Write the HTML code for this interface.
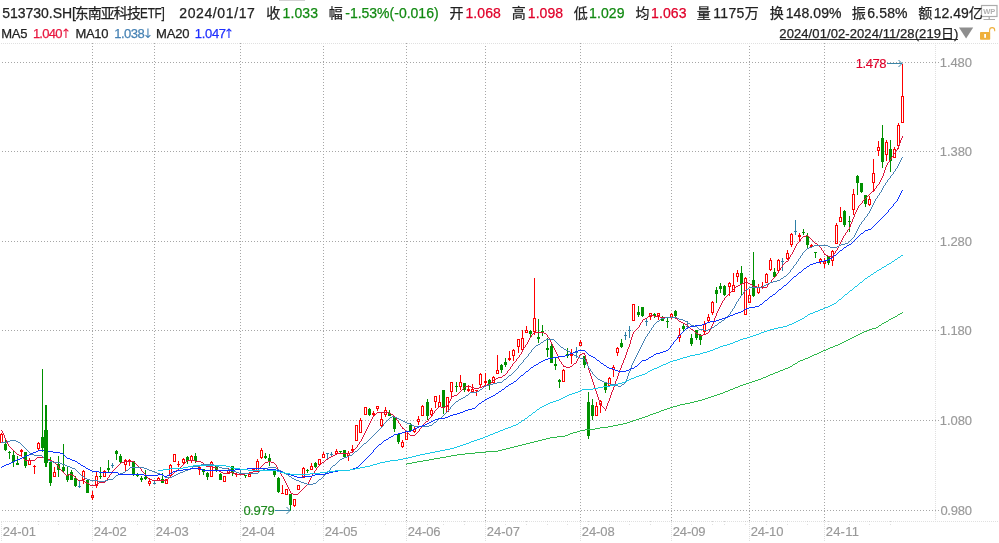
<!DOCTYPE html><html lang="zh-CN"><head><meta charset="utf-8"><title>513730.SH 东南亚科技ETF</title><style>
html,body{margin:0;padding:0;background:#fff}
body{width:999px;height:543px;position:relative;overflow:hidden;font-family:"Liberation Sans","Noto Sans CJK SC",sans-serif}
.t{position:absolute;white-space:nowrap;line-height:1}
.h{font-size:14px}
.c{font-size:14px}
.h2{font-size:13px}.ar{font-family:"DejaVu Sans",sans-serif;font-size:13px}.c2{font-size:13px}
.h,.c,.h2,.c2{-webkit-text-stroke:0.25px currentColor}.ar{-webkit-text-stroke:0}
.k{color:#222}.g{color:#128a12}.r{color:#e0002a}
.m5{color:#e8173f}.m10{color:#4682b4}.m20{color:#1f2fff}

.a{font-size:13px;line-height:14px;color:#999;-webkit-text-stroke:0.15px currentColor}
</style></head><body><svg width="999" height="543" viewBox="0 0 999 543" style="position:absolute;left:0;top:0"><g shape-rendering="crispEdges" fill="none"><path d="M2 62.5H939" stroke="#a6a6a6" stroke-dasharray="1 2"/><path d="M2 151.5H939" stroke="#a6a6a6" stroke-dasharray="1 2"/><path d="M2 241.5H939" stroke="#a6a6a6" stroke-dasharray="1 2"/><path d="M2 330.5H939" stroke="#a6a6a6" stroke-dasharray="1 2"/><path d="M2 420.5H939" stroke="#a6a6a6" stroke-dasharray="1 2"/><path d="M2 510.5H939" stroke="#a6a6a6" stroke-dasharray="1 2"/><path d="M92.5 43V521" stroke="#a6a6a6" stroke-dasharray="1 2"/><path d="M92.5 522V541" stroke="#e0e0e0" stroke-dasharray="1 1"/><path d="M154.5 43V521" stroke="#a6a6a6" stroke-dasharray="1 2"/><path d="M154.5 522V541" stroke="#e0e0e0" stroke-dasharray="1 1"/><path d="M240.5 43V521" stroke="#a6a6a6" stroke-dasharray="1 2"/><path d="M240.5 522V541" stroke="#e0e0e0" stroke-dasharray="1 1"/><path d="M323.5 43V521" stroke="#a6a6a6" stroke-dasharray="1 2"/><path d="M323.5 522V541" stroke="#e0e0e0" stroke-dasharray="1 1"/><path d="M406.5 43V521" stroke="#a6a6a6" stroke-dasharray="1 2"/><path d="M406.5 522V541" stroke="#e0e0e0" stroke-dasharray="1 1"/><path d="M485.5 43V521" stroke="#a6a6a6" stroke-dasharray="1 2"/><path d="M485.5 522V541" stroke="#e0e0e0" stroke-dasharray="1 1"/><path d="M580.5 43V521" stroke="#a6a6a6" stroke-dasharray="1 2"/><path d="M580.5 522V541" stroke="#e0e0e0" stroke-dasharray="1 1"/><path d="M671.5 43V521" stroke="#a6a6a6" stroke-dasharray="1 2"/><path d="M671.5 522V541" stroke="#e0e0e0" stroke-dasharray="1 1"/><path d="M749.5 43V521" stroke="#a6a6a6" stroke-dasharray="1 2"/><path d="M749.5 522V541" stroke="#e0e0e0" stroke-dasharray="1 1"/><path d="M824.5 43V521" stroke="#a6a6a6" stroke-dasharray="1 2"/><path d="M824.5 522V541" stroke="#e0e0e0" stroke-dasharray="1 1"/><path d="M1 43.5H999" stroke="#e0e0e0" stroke-dasharray="1 1"/><path d="M1 521.5H999" stroke="#e0e0e0" stroke-dasharray="1 1"/><path d="M935.5 43V521" stroke="#e0e0e0" stroke-dasharray="1 1"/><path d="M1.5 522V541" stroke="#e0e0e0" stroke-dasharray="1 1"/><path d="M17.5 524V525" stroke="#e0e0e0"/><path d="M17.5 521V522" stroke="#d0d0d0"/><path d="M38.5 524V525" stroke="#e0e0e0"/><path d="M38.5 521V522" stroke="#d0d0d0"/><path d="M58.5 524V525" stroke="#e0e0e0"/><path d="M58.5 521V522" stroke="#d0d0d0"/><path d="M79.5 524V525" stroke="#e0e0e0"/><path d="M79.5 521V522" stroke="#d0d0d0"/><path d="M100.5 524V525" stroke="#e0e0e0"/><path d="M100.5 521V522" stroke="#d0d0d0"/><path d="M116.5 524V525" stroke="#e0e0e0"/><path d="M116.5 521V522" stroke="#d0d0d0"/><path d="M137.5 524V525" stroke="#e0e0e0"/><path d="M137.5 521V522" stroke="#d0d0d0"/><path d="M158.5 524V525" stroke="#e0e0e0"/><path d="M158.5 521V522" stroke="#d0d0d0"/><path d="M178.5 524V525" stroke="#e0e0e0"/><path d="M178.5 521V522" stroke="#d0d0d0"/><path d="M199.5 524V525" stroke="#e0e0e0"/><path d="M199.5 521V522" stroke="#d0d0d0"/><path d="M220.5 524V525" stroke="#e0e0e0"/><path d="M220.5 521V522" stroke="#d0d0d0"/><path d="M253.5 524V525" stroke="#e0e0e0"/><path d="M253.5 521V522" stroke="#d0d0d0"/><path d="M274.5 524V525" stroke="#e0e0e0"/><path d="M274.5 521V522" stroke="#d0d0d0"/><path d="M294.5 524V525" stroke="#e0e0e0"/><path d="M294.5 521V522" stroke="#d0d0d0"/><path d="M315.5 524V525" stroke="#e0e0e0"/><path d="M315.5 521V522" stroke="#d0d0d0"/><path d="M344.5 524V525" stroke="#e0e0e0"/><path d="M344.5 521V522" stroke="#d0d0d0"/><path d="M365.5 524V525" stroke="#e0e0e0"/><path d="M365.5 521V522" stroke="#d0d0d0"/><path d="M385.5 524V525" stroke="#e0e0e0"/><path d="M385.5 521V522" stroke="#d0d0d0"/><path d="M427.5 524V525" stroke="#e0e0e0"/><path d="M427.5 521V522" stroke="#d0d0d0"/><path d="M443.5 524V525" stroke="#e0e0e0"/><path d="M443.5 521V522" stroke="#d0d0d0"/><path d="M464.5 524V525" stroke="#e0e0e0"/><path d="M464.5 521V522" stroke="#d0d0d0"/><path d="M505.5 524V525" stroke="#e0e0e0"/><path d="M505.5 521V522" stroke="#d0d0d0"/><path d="M526.5 524V525" stroke="#e0e0e0"/><path d="M526.5 521V522" stroke="#d0d0d0"/><path d="M547.5 524V525" stroke="#e0e0e0"/><path d="M547.5 521V522" stroke="#d0d0d0"/><path d="M567.5 524V525" stroke="#e0e0e0"/><path d="M567.5 521V522" stroke="#d0d0d0"/><path d="M588.5 524V525" stroke="#e0e0e0"/><path d="M588.5 521V522" stroke="#d0d0d0"/><path d="M609.5 524V525" stroke="#e0e0e0"/><path d="M609.5 521V522" stroke="#d0d0d0"/><path d="M629.5 524V525" stroke="#e0e0e0"/><path d="M629.5 521V522" stroke="#d0d0d0"/><path d="M650.5 524V525" stroke="#e0e0e0"/><path d="M650.5 521V522" stroke="#d0d0d0"/><path d="M691.5 524V525" stroke="#e0e0e0"/><path d="M691.5 521V522" stroke="#d0d0d0"/><path d="M712.5 524V525" stroke="#e0e0e0"/><path d="M712.5 521V522" stroke="#d0d0d0"/><path d="M724.5 524V525" stroke="#e0e0e0"/><path d="M724.5 521V522" stroke="#d0d0d0"/><path d="M745.5 524V525" stroke="#e0e0e0"/><path d="M745.5 521V522" stroke="#d0d0d0"/><path d="M766.5 524V525" stroke="#e0e0e0"/><path d="M766.5 521V522" stroke="#d0d0d0"/><path d="M787.5 524V525" stroke="#e0e0e0"/><path d="M787.5 521V522" stroke="#d0d0d0"/><path d="M807.5 524V525" stroke="#e0e0e0"/><path d="M807.5 521V522" stroke="#d0d0d0"/><path d="M828.5 524V525" stroke="#e0e0e0"/><path d="M828.5 521V522" stroke="#d0d0d0"/><path d="M849.5 524V525" stroke="#e0e0e0"/><path d="M849.5 521V522" stroke="#d0d0d0"/><path d="M869.5 524V525" stroke="#e0e0e0"/><path d="M869.5 521V522" stroke="#d0d0d0"/><path d="M890.5 524V525" stroke="#e0e0e0"/><path d="M890.5 521V522" stroke="#d0d0d0"/></g><g shape-rendering="crispEdges"><rect x="1" y="433" width="1" height="1" fill="#ff0000"/><path d="M0 434h3v9h-3zM1 435v7h1v-7z" fill="#ff0000" fill-rule="evenodd"/><rect x="5" y="440" width="1" height="11" fill="#009100"/><rect x="4" y="444" width="3" height="6" fill="#009100"/><rect x="9" y="451" width="1" height="8" fill="#009100"/><rect x="8" y="452" width="3" height="1" fill="#009100"/><rect x="13" y="450" width="1" height="17" fill="#009100"/><rect x="12" y="455" width="3" height="7" fill="#009100"/><rect x="17" y="456" width="1" height="9" fill="#009100"/><rect x="16" y="463" width="3" height="2" fill="#009100"/><rect x="21" y="449" width="1" height="1" fill="#ff0000"/><rect x="21" y="452" width="1" height="5" fill="#ff0000"/><rect x="20" y="450" width="3" height="2" fill="#ff0000"/><rect x="25" y="452" width="1" height="16" fill="#009100"/><rect x="24" y="452" width="3" height="14" fill="#009100"/><rect x="29" y="458" width="1" height="2" fill="#ff0000"/><path d="M28 460h3v5h-3zM29 461v3h1v-3z" fill="#ff0000" fill-rule="evenodd"/><rect x="34" y="465" width="1" height="1" fill="#ff0000"/><rect x="34" y="467" width="1" height="7" fill="#ff0000"/><rect x="33" y="466" width="3" height="1" fill="#ff0000"/><rect x="38" y="442" width="1" height="1" fill="#ff0000"/><rect x="38" y="449" width="1" height="2" fill="#ff0000"/><path d="M37 443h3v6h-3zM38 444v4h1v-4z" fill="#ff0000" fill-rule="evenodd"/><rect x="42" y="369" width="1" height="83" fill="#009100"/><rect x="41" y="437" width="3" height="11" fill="#009100"/><rect x="50" y="457" width="1" height="29" fill="#009100"/><rect x="49" y="462" width="3" height="21" fill="#009100"/><rect x="54" y="467" width="1" height="5" fill="#ff0000"/><path d="M53 472h3v5h-3zM54 473v3h1v-3z" fill="#ff0000" fill-rule="evenodd"/><rect x="58" y="456" width="1" height="21" fill="#009100"/><rect x="57" y="464" width="3" height="6" fill="#009100"/><rect x="63" y="444" width="1" height="28" fill="#009100"/><rect x="62" y="467" width="3" height="4" fill="#009100"/><rect x="67" y="466" width="1" height="16" fill="#009100"/><rect x="66" y="475" width="3" height="5" fill="#009100"/><rect x="71" y="470" width="1" height="10" fill="#009100"/><rect x="70" y="472" width="3" height="8" fill="#009100"/><rect x="75" y="476" width="1" height="11" fill="#009100"/><rect x="74" y="478" width="3" height="8" fill="#009100"/><rect x="79" y="481" width="1" height="7" fill="#2e7fa6"/><rect x="78" y="486" width="3" height="1" fill="#2e7fa6"/><rect x="83" y="470" width="1" height="1" fill="#ff0000"/><rect x="83" y="480" width="1" height="4" fill="#ff0000"/><path d="M82 471h3v9h-3zM83 472v7h1v-7z" fill="#ff0000" fill-rule="evenodd"/><rect x="87" y="480" width="1" height="13" fill="#009100"/><rect x="86" y="480" width="3" height="13" fill="#009100"/><rect x="92" y="491" width="1" height="4" fill="#ff0000"/><rect x="92" y="498" width="1" height="2" fill="#ff0000"/><path d="M91 495h3v3h-3zM92 496v1h1v-1z" fill="#ff0000" fill-rule="evenodd"/><rect x="96" y="472" width="1" height="4" fill="#ff0000"/><rect x="96" y="486" width="1" height="2" fill="#ff0000"/><path d="M95 476h3v10h-3zM96 477v8h1v-8z" fill="#ff0000" fill-rule="evenodd"/><rect x="100" y="467" width="1" height="12" fill="#009100"/><rect x="99" y="476" width="3" height="1" fill="#009100"/><rect x="104" y="470" width="1" height="1" fill="#ff0000"/><path d="M103 471h3v6h-3zM104 472v4h1v-4z" fill="#ff0000" fill-rule="evenodd"/><rect x="108" y="460" width="1" height="13" fill="#009100"/><rect x="107" y="468" width="3" height="2" fill="#009100"/><rect x="112" y="463" width="1" height="5" fill="#2e7fa6"/><rect x="111" y="465" width="3" height="1" fill="#2e7fa6"/><rect x="116" y="450" width="1" height="10" fill="#009100"/><rect x="115" y="451" width="3" height="3" fill="#009100"/><rect x="120" y="454" width="1" height="10" fill="#009100"/><rect x="119" y="456" width="3" height="6" fill="#009100"/><rect x="125" y="459" width="1" height="1" fill="#ff0000"/><rect x="125" y="465" width="1" height="6" fill="#ff0000"/><path d="M124 460h3v5h-3zM125 461v3h1v-3z" fill="#ff0000" fill-rule="evenodd"/><rect x="129" y="459" width="1" height="1" fill="#ff0000"/><rect x="129" y="462" width="1" height="4" fill="#ff0000"/><rect x="128" y="460" width="3" height="2" fill="#ff0000"/><rect x="133" y="461" width="1" height="15" fill="#009100"/><rect x="132" y="461" width="3" height="13" fill="#009100"/><rect x="137" y="473" width="1" height="4" fill="#009100"/><rect x="136" y="474" width="3" height="2" fill="#009100"/><rect x="141" y="476" width="1" height="6" fill="#009100"/><rect x="140" y="478" width="3" height="2" fill="#009100"/><rect x="145" y="470" width="1" height="10" fill="#009100"/><rect x="144" y="477" width="3" height="2" fill="#009100"/><rect x="149" y="478" width="1" height="3" fill="#ff0000"/><rect x="149" y="484" width="1" height="2" fill="#ff0000"/><path d="M148 481h3v3h-3zM149 482v1h1v-1z" fill="#ff0000" fill-rule="evenodd"/><rect x="154" y="480" width="1" height="4" fill="#2e7fa6"/><rect x="153" y="483" width="3" height="1" fill="#2e7fa6"/><rect x="158" y="477" width="1" height="1" fill="#ff0000"/><path d="M157 478h3v3h-3zM158 479v1h1v-1z" fill="#ff0000" fill-rule="evenodd"/><rect x="162" y="473" width="1" height="10" fill="#009100"/><rect x="161" y="479" width="3" height="4" fill="#009100"/><path d="M165 479h3v5h-3zM166 480v3h1v-3z" fill="#ff0000" fill-rule="evenodd"/><rect x="170" y="464" width="1" height="1" fill="#ff0000"/><rect x="170" y="476" width="1" height="2" fill="#ff0000"/><path d="M169 465h3v11h-3zM170 466v9h1v-9z" fill="#ff0000" fill-rule="evenodd"/><path d="M173 454h3v8h-3zM174 455v6h1v-6z" fill="#ff0000" fill-rule="evenodd"/><rect x="178" y="461" width="1" height="3" fill="#ff0000"/><rect x="178" y="465" width="1" height="2" fill="#ff0000"/><rect x="177" y="464" width="3" height="1" fill="#ff0000"/><rect x="183" y="458" width="1" height="1" fill="#ff0000"/><rect x="183" y="463" width="1" height="1" fill="#ff0000"/><path d="M182 459h3v4h-3zM183 460v2h1v-2z" fill="#ff0000" fill-rule="evenodd"/><rect x="187" y="456" width="1" height="8" fill="#009100"/><rect x="186" y="457" width="3" height="4" fill="#009100"/><rect x="191" y="455" width="1" height="1" fill="#ff0000"/><rect x="191" y="461" width="1" height="2" fill="#ff0000"/><path d="M190 456h3v5h-3zM191 457v3h1v-3z" fill="#ff0000" fill-rule="evenodd"/><rect x="195" y="453" width="1" height="10" fill="#009100"/><rect x="194" y="456" width="3" height="5" fill="#009100"/><rect x="199" y="466" width="1" height="1" fill="#ff0000"/><rect x="199" y="470" width="1" height="5" fill="#ff0000"/><path d="M198 467h3v3h-3zM199 468v1h1v-1z" fill="#ff0000" fill-rule="evenodd"/><rect x="203" y="469" width="1" height="6" fill="#009100"/><rect x="202" y="469" width="3" height="3" fill="#009100"/><rect x="207" y="472" width="1" height="8" fill="#009100"/><rect x="206" y="473" width="3" height="4" fill="#009100"/><rect x="211" y="461" width="1" height="1" fill="#ff0000"/><path d="M210 462h3v15h-3zM211 463v13h1v-13z" fill="#ff0000" fill-rule="evenodd"/><rect x="216" y="466" width="1" height="6" fill="#009100"/><rect x="215" y="466" width="3" height="4" fill="#009100"/><rect x="220" y="473" width="1" height="7" fill="#009100"/><rect x="219" y="474" width="3" height="6" fill="#009100"/><path d="M223 476h3v6h-3zM224 477v4h1v-4z" fill="#ff0000" fill-rule="evenodd"/><rect x="228" y="468" width="1" height="2" fill="#ff0000"/><path d="M227 470h3v4h-3zM228 471v2h1v-2z" fill="#ff0000" fill-rule="evenodd"/><rect x="232" y="466" width="1" height="10" fill="#009100"/><rect x="231" y="466" width="3" height="7" fill="#009100"/><rect x="236" y="473" width="1" height="1" fill="#ff0000"/><rect x="236" y="475" width="1" height="2" fill="#ff0000"/><rect x="235" y="474" width="3" height="1" fill="#ff0000"/><rect x="240" y="470" width="1" height="5" fill="#2e7fa6"/><rect x="239" y="473" width="3" height="1" fill="#2e7fa6"/><rect x="245" y="475" width="1" height="3" fill="#009100"/><rect x="244" y="475" width="3" height="1" fill="#009100"/><rect x="249" y="472" width="1" height="2" fill="#ff0000"/><path d="M248 474h3v3h-3zM249 475v1h1v-1z" fill="#ff0000" fill-rule="evenodd"/><rect x="252" y="469" width="3" height="1" fill="#ff0000"/><rect x="257" y="459" width="1" height="2" fill="#ff0000"/><path d="M256 461h3v11h-3zM257 462v9h1v-9z" fill="#ff0000" fill-rule="evenodd"/><rect x="261" y="448" width="1" height="2" fill="#ff0000"/><rect x="261" y="458" width="1" height="1" fill="#ff0000"/><path d="M260 450h3v8h-3zM261 451v6h1v-6z" fill="#ff0000" fill-rule="evenodd"/><rect x="265" y="453" width="1" height="6" fill="#009100"/><rect x="264" y="456" width="3" height="2" fill="#009100"/><rect x="269" y="454" width="1" height="12" fill="#009100"/><rect x="268" y="458" width="3" height="4" fill="#009100"/><rect x="274" y="471" width="1" height="6" fill="#009100"/><rect x="273" y="471" width="3" height="4" fill="#009100"/><rect x="278" y="477" width="1" height="16" fill="#009100"/><rect x="277" y="478" width="3" height="14" fill="#009100"/><rect x="282" y="485" width="1" height="8" fill="#ff0000"/><rect x="281" y="493" width="3" height="1" fill="#ff0000"/><path d="M285 489h3v6h-3zM286 490v4h1v-4z" fill="#ff0000" fill-rule="evenodd"/><rect x="290" y="494" width="1" height="17" fill="#009100"/><rect x="289" y="494" width="3" height="11" fill="#009100"/><rect x="294" y="506" width="1" height="1" fill="#ff0000"/><path d="M293 499h3v7h-3zM294 500v5h1v-5z" fill="#ff0000" fill-rule="evenodd"/><path d="M297 485h3v5h-3zM298 486v3h1v-3z" fill="#ff0000" fill-rule="evenodd"/><rect x="303" y="467" width="1" height="1" fill="#ff0000"/><path d="M302 468h3v10h-3zM303 469v8h1v-8z" fill="#ff0000" fill-rule="evenodd"/><rect x="307" y="469" width="1" height="4" fill="#009100"/><rect x="306" y="470" width="3" height="1" fill="#009100"/><rect x="311" y="463" width="1" height="3" fill="#ff0000"/><path d="M310 466h3v4h-3zM311 467v2h1v-2z" fill="#ff0000" fill-rule="evenodd"/><rect x="315" y="462" width="1" height="6" fill="#009100"/><rect x="314" y="463" width="3" height="4" fill="#009100"/><path d="M318 459h3v6h-3zM319 460v4h1v-4z" fill="#ff0000" fill-rule="evenodd"/><rect x="323" y="452" width="1" height="2" fill="#ff0000"/><path d="M322 454h3v4h-3zM323 455v2h1v-2z" fill="#ff0000" fill-rule="evenodd"/><rect x="327" y="453" width="1" height="7" fill="#2e7fa6"/><rect x="326" y="453" width="3" height="1" fill="#2e7fa6"/><rect x="331" y="452" width="1" height="5" fill="#2e7fa6"/><rect x="330" y="454" width="3" height="1" fill="#2e7fa6"/><rect x="336" y="449" width="1" height="2" fill="#ff0000"/><rect x="336" y="454" width="1" height="1" fill="#ff0000"/><path d="M335 451h3v3h-3zM336 452v1h1v-1z" fill="#ff0000" fill-rule="evenodd"/><rect x="340" y="451" width="1" height="2" fill="#009100"/><rect x="339" y="451" width="3" height="1" fill="#009100"/><rect x="344" y="450" width="1" height="8" fill="#009100"/><rect x="343" y="450" width="3" height="7" fill="#009100"/><rect x="348" y="451" width="1" height="2" fill="#ff0000"/><rect x="348" y="456" width="1" height="5" fill="#ff0000"/><path d="M347 453h3v3h-3zM348 454v1h1v-1z" fill="#ff0000" fill-rule="evenodd"/><rect x="352" y="445" width="1" height="4" fill="#ff0000"/><rect x="352" y="451" width="1" height="1" fill="#ff0000"/><rect x="351" y="449" width="3" height="2" fill="#ff0000"/><path d="M355 425h3v16h-3zM356 426v14h1v-14z" fill="#ff0000" fill-rule="evenodd"/><rect x="360" y="418" width="1" height="2" fill="#ff0000"/><path d="M359 420h3v13h-3zM360 421v11h1v-11z" fill="#ff0000" fill-rule="evenodd"/><path d="M364 407h3v8h-3zM365 408v6h1v-6z" fill="#ff0000" fill-rule="evenodd"/><rect x="369" y="408" width="1" height="8" fill="#009100"/><rect x="368" y="409" width="3" height="6" fill="#009100"/><rect x="373" y="411" width="1" height="2" fill="#ff0000"/><rect x="373" y="415" width="1" height="2" fill="#ff0000"/><rect x="372" y="413" width="3" height="2" fill="#ff0000"/><rect x="377" y="409" width="1" height="2" fill="#ff0000"/><path d="M376 406h3v3h-3zM377 407v1h1v-1z" fill="#ff0000" fill-rule="evenodd"/><rect x="381" y="413" width="1" height="6" fill="#ff0000"/><rect x="381" y="426" width="1" height="2" fill="#ff0000"/><path d="M380 419h3v7h-3zM381 420v5h1v-5z" fill="#ff0000" fill-rule="evenodd"/><rect x="385" y="407" width="1" height="3" fill="#ff0000"/><rect x="385" y="415" width="1" height="2" fill="#ff0000"/><path d="M384 410h3v5h-3zM385 411v3h1v-3z" fill="#ff0000" fill-rule="evenodd"/><rect x="389" y="410" width="1" height="6" fill="#009100"/><rect x="388" y="413" width="3" height="3" fill="#009100"/><rect x="394" y="417" width="1" height="15" fill="#009100"/><rect x="393" y="417" width="3" height="12" fill="#009100"/><rect x="398" y="434" width="1" height="10" fill="#009100"/><rect x="397" y="434" width="3" height="8" fill="#009100"/><rect x="402" y="440" width="1" height="2" fill="#ff0000"/><rect x="402" y="447" width="1" height="1" fill="#ff0000"/><path d="M401 442h3v5h-3zM402 443v3h1v-3z" fill="#ff0000" fill-rule="evenodd"/><path d="M405 431h3v9h-3zM406 432v7h1v-7z" fill="#ff0000" fill-rule="evenodd"/><rect x="410" y="423" width="1" height="8" fill="#009100"/><rect x="409" y="425" width="3" height="6" fill="#009100"/><rect x="414" y="427" width="1" height="2" fill="#ff0000"/><rect x="414" y="432" width="1" height="1" fill="#ff0000"/><path d="M413 429h3v3h-3zM414 430v1h1v-1z" fill="#ff0000" fill-rule="evenodd"/><rect x="418" y="416" width="1" height="3" fill="#ff0000"/><rect x="418" y="422" width="1" height="3" fill="#ff0000"/><path d="M417 419h3v3h-3zM418 420v1h1v-1z" fill="#ff0000" fill-rule="evenodd"/><rect x="422" y="405" width="1" height="1" fill="#ff0000"/><path d="M421 406h3v10h-3zM422 407v8h1v-8z" fill="#ff0000" fill-rule="evenodd"/><rect x="427" y="399" width="1" height="21" fill="#009100"/><rect x="426" y="402" width="3" height="14" fill="#009100"/><rect x="431" y="408" width="1" height="2" fill="#ff0000"/><rect x="431" y="415" width="1" height="1" fill="#ff0000"/><path d="M430 410h3v5h-3zM431 411v3h1v-3z" fill="#ff0000" fill-rule="evenodd"/><rect x="435" y="402" width="1" height="6" fill="#ff0000"/><path d="M434 396h3v6h-3zM435 397v4h1v-4z" fill="#ff0000" fill-rule="evenodd"/><rect x="439" y="395" width="1" height="7" fill="#ff0000"/><path d="M438 402h3v5h-3zM439 403v3h1v-3z" fill="#ff0000" fill-rule="evenodd"/><rect x="443" y="390" width="1" height="24" fill="#009100"/><rect x="442" y="390" width="3" height="18" fill="#009100"/><path d="M446 397h3v15h-3zM447 398v13h1v-13z" fill="#ff0000" fill-rule="evenodd"/><rect x="451" y="392" width="1" height="5" fill="#ff0000"/><path d="M450 382h3v10h-3zM451 383v8h1v-8z" fill="#ff0000" fill-rule="evenodd"/><rect x="456" y="382" width="1" height="10" fill="#009100"/><rect x="455" y="386" width="3" height="1" fill="#009100"/><rect x="460" y="375" width="1" height="7" fill="#ff0000"/><rect x="460" y="387" width="1" height="3" fill="#ff0000"/><path d="M459 382h3v5h-3zM460 383v3h1v-3z" fill="#ff0000" fill-rule="evenodd"/><rect x="464" y="383" width="1" height="9" fill="#009100"/><rect x="463" y="383" width="3" height="7" fill="#009100"/><rect x="468" y="385" width="1" height="4" fill="#ff0000"/><rect x="468" y="391" width="1" height="1" fill="#ff0000"/><rect x="467" y="389" width="3" height="2" fill="#ff0000"/><rect x="472" y="384" width="1" height="5" fill="#ff0000"/><path d="M471 389h3v3h-3zM472 390v1h1v-1z" fill="#ff0000" fill-rule="evenodd"/><rect x="476" y="391" width="1" height="5" fill="#ff0000"/><rect x="475" y="390" width="3" height="1" fill="#ff0000"/><rect x="480" y="373" width="1" height="1" fill="#ff0000"/><rect x="480" y="385" width="1" height="2" fill="#ff0000"/><path d="M479 374h3v11h-3zM480 375v9h1v-9z" fill="#ff0000" fill-rule="evenodd"/><rect x="485" y="373" width="1" height="8" fill="#ff0000"/><rect x="485" y="383" width="1" height="3" fill="#ff0000"/><rect x="484" y="381" width="3" height="2" fill="#ff0000"/><rect x="489" y="379" width="1" height="11" fill="#009100"/><rect x="488" y="380" width="3" height="4" fill="#009100"/><rect x="493" y="376" width="1" height="1" fill="#ff0000"/><path d="M492 377h3v6h-3zM493 378v4h1v-4z" fill="#ff0000" fill-rule="evenodd"/><rect x="497" y="355" width="1" height="15" fill="#ff0000"/><path d="M496 370h3v4h-3zM497 371v2h1v-2z" fill="#ff0000" fill-rule="evenodd"/><rect x="501" y="364" width="1" height="9" fill="#009100"/><rect x="500" y="365" width="3" height="5" fill="#009100"/><rect x="505" y="358" width="1" height="9" fill="#009100"/><rect x="504" y="362" width="3" height="3" fill="#009100"/><rect x="509" y="351" width="1" height="7" fill="#ff0000"/><rect x="509" y="360" width="1" height="1" fill="#ff0000"/><rect x="508" y="358" width="3" height="2" fill="#ff0000"/><rect x="513" y="349" width="1" height="1" fill="#ff0000"/><rect x="513" y="356" width="1" height="5" fill="#ff0000"/><path d="M512 350h3v6h-3zM513 351v4h1v-4z" fill="#ff0000" fill-rule="evenodd"/><rect x="518" y="347" width="1" height="6" fill="#ff0000"/><path d="M517 339h3v8h-3zM518 340v6h1v-6z" fill="#ff0000" fill-rule="evenodd"/><rect x="522" y="330" width="1" height="8" fill="#ff0000"/><path d="M521 338h3v12h-3zM522 339v10h1v-10z" fill="#ff0000" fill-rule="evenodd"/><rect x="526" y="326" width="1" height="4" fill="#ff0000"/><path d="M525 330h3v3h-3zM526 331v1h1v-1z" fill="#ff0000" fill-rule="evenodd"/><rect x="530" y="330" width="1" height="8" fill="#009100"/><rect x="529" y="331" width="3" height="3" fill="#009100"/><rect x="534" y="278" width="1" height="40" fill="#ff0000"/><rect x="534" y="332" width="1" height="3" fill="#ff0000"/><path d="M533 318h3v14h-3zM534 319v12h1v-12z" fill="#ff0000" fill-rule="evenodd"/><rect x="538" y="319" width="1" height="24" fill="#009100"/><rect x="537" y="337" width="3" height="2" fill="#009100"/><rect x="542" y="325" width="1" height="11" fill="#009100"/><rect x="541" y="331" width="3" height="2" fill="#009100"/><rect x="547" y="338" width="1" height="19" fill="#009100"/><rect x="546" y="348" width="3" height="2" fill="#009100"/><rect x="551" y="344" width="1" height="19" fill="#009100"/><rect x="550" y="346" width="3" height="17" fill="#009100"/><rect x="555" y="357" width="1" height="13" fill="#009100"/><rect x="554" y="364" width="3" height="2" fill="#009100"/><rect x="559" y="379" width="1" height="9" fill="#009100"/><rect x="558" y="380" width="3" height="2" fill="#009100"/><rect x="563" y="369" width="1" height="1" fill="#ff0000"/><path d="M562 370h3v12h-3zM563 371v10h1v-10z" fill="#ff0000" fill-rule="evenodd"/><rect x="567" y="348" width="1" height="10" fill="#009100"/><rect x="566" y="354" width="3" height="2" fill="#009100"/><rect x="571" y="349" width="1" height="5" fill="#ff0000"/><rect x="571" y="356" width="1" height="8" fill="#ff0000"/><rect x="570" y="354" width="3" height="2" fill="#ff0000"/><rect x="576" y="347" width="1" height="11" fill="#2e7fa6"/><rect x="575" y="352" width="3" height="1" fill="#2e7fa6"/><rect x="580" y="340" width="1" height="2" fill="#ff0000"/><path d="M579 342h3v4h-3zM580 343v2h1v-2z" fill="#ff0000" fill-rule="evenodd"/><rect x="584" y="356" width="1" height="12" fill="#009100"/><rect x="583" y="356" width="3" height="9" fill="#009100"/><rect x="588" y="392" width="1" height="47" fill="#009100"/><rect x="587" y="402" width="3" height="34" fill="#009100"/><rect x="592" y="399" width="1" height="21" fill="#009100"/><rect x="591" y="405" width="3" height="11" fill="#009100"/><rect x="596" y="402" width="1" height="4" fill="#ff0000"/><path d="M595 406h3v10h-3zM596 407v8h1v-8z" fill="#ff0000" fill-rule="evenodd"/><rect x="600" y="400" width="1" height="1" fill="#ff0000"/><rect x="600" y="405" width="1" height="8" fill="#ff0000"/><path d="M599 401h3v4h-3zM600 402v2h1v-2z" fill="#ff0000" fill-rule="evenodd"/><rect x="605" y="383" width="1" height="10" fill="#009100"/><rect x="604" y="383" width="3" height="7" fill="#009100"/><rect x="609" y="377" width="1" height="1" fill="#ff0000"/><path d="M608 378h3v8h-3zM609 379v6h1v-6z" fill="#ff0000" fill-rule="evenodd"/><rect x="613" y="365" width="1" height="2" fill="#ff0000"/><rect x="613" y="370" width="1" height="7" fill="#ff0000"/><path d="M612 367h3v3h-3zM613 368v1h1v-1z" fill="#ff0000" fill-rule="evenodd"/><rect x="617" y="347" width="1" height="1" fill="#ff0000"/><rect x="617" y="353" width="1" height="3" fill="#ff0000"/><path d="M616 348h3v5h-3zM617 349v3h1v-3z" fill="#ff0000" fill-rule="evenodd"/><rect x="621" y="339" width="1" height="9" fill="#009100"/><rect x="620" y="343" width="3" height="4" fill="#009100"/><rect x="625" y="332" width="1" height="8" fill="#2e7fa6"/><rect x="624" y="335" width="3" height="1" fill="#2e7fa6"/><rect x="629" y="326" width="1" height="12" fill="#2e7fa6"/><rect x="628" y="330" width="3" height="1" fill="#2e7fa6"/><path d="M632 304h3v17h-3zM633 305v15h1v-15z" fill="#ff0000" fill-rule="evenodd"/><rect x="638" y="306" width="1" height="11" fill="#009100"/><rect x="637" y="312" width="3" height="3" fill="#009100"/><rect x="642" y="307" width="1" height="10" fill="#009100"/><rect x="641" y="307" width="3" height="9" fill="#009100"/><rect x="646" y="319" width="1" height="7" fill="#2e7fa6"/><rect x="645" y="321" width="3" height="1" fill="#2e7fa6"/><rect x="650" y="317" width="1" height="3" fill="#ff0000"/><path d="M649 313h3v4h-3zM650 314v2h1v-2z" fill="#ff0000" fill-rule="evenodd"/><rect x="654" y="313" width="1" height="5" fill="#009100"/><rect x="653" y="314" width="3" height="2" fill="#009100"/><rect x="658" y="316" width="1" height="4" fill="#ff0000"/><path d="M657 313h3v3h-3zM658 314v1h1v-1z" fill="#ff0000" fill-rule="evenodd"/><rect x="662" y="316" width="1" height="5" fill="#009100"/><rect x="661" y="317" width="3" height="4" fill="#009100"/><rect x="667" y="317" width="1" height="11" fill="#009100"/><rect x="666" y="321" width="3" height="1" fill="#009100"/><rect x="671" y="313" width="1" height="1" fill="#ff0000"/><rect x="671" y="318" width="1" height="1" fill="#ff0000"/><path d="M670 314h3v4h-3zM671 315v2h1v-2z" fill="#ff0000" fill-rule="evenodd"/><rect x="675" y="310" width="1" height="9" fill="#009100"/><rect x="674" y="311" width="3" height="5" fill="#009100"/><rect x="679" y="328" width="1" height="7" fill="#ff0000"/><rect x="679" y="338" width="1" height="4" fill="#ff0000"/><path d="M678 335h3v3h-3zM679 336v1h1v-1z" fill="#ff0000" fill-rule="evenodd"/><rect x="683" y="324" width="1" height="7" fill="#009100"/><rect x="682" y="326" width="3" height="3" fill="#009100"/><rect x="687" y="321" width="1" height="7" fill="#2e7fa6"/><rect x="686" y="326" width="3" height="1" fill="#2e7fa6"/><rect x="691" y="334" width="1" height="12" fill="#009100"/><rect x="690" y="338" width="3" height="6" fill="#009100"/><rect x="696" y="330" width="1" height="10" fill="#009100"/><rect x="695" y="330" width="3" height="8" fill="#009100"/><rect x="700" y="334" width="1" height="11" fill="#009100"/><rect x="699" y="335" width="3" height="5" fill="#009100"/><rect x="704" y="321" width="1" height="3" fill="#ff0000"/><rect x="704" y="332" width="1" height="3" fill="#ff0000"/><path d="M703 324h3v8h-3zM704 325v6h1v-6z" fill="#ff0000" fill-rule="evenodd"/><rect x="708" y="314" width="1" height="3" fill="#ff0000"/><rect x="708" y="321" width="1" height="2" fill="#ff0000"/><path d="M707 317h3v4h-3zM708 318v2h1v-2z" fill="#ff0000" fill-rule="evenodd"/><rect x="712" y="301" width="1" height="1" fill="#ff0000"/><rect x="712" y="313" width="1" height="2" fill="#ff0000"/><path d="M711 302h3v11h-3zM712 303v9h1v-9z" fill="#ff0000" fill-rule="evenodd"/><rect x="716" y="287" width="1" height="16" fill="#009100"/><rect x="715" y="290" width="3" height="4" fill="#009100"/><rect x="720" y="283" width="1" height="10" fill="#009100"/><rect x="719" y="286" width="3" height="3" fill="#009100"/><rect x="724" y="285" width="1" height="11" fill="#009100"/><rect x="723" y="286" width="3" height="9" fill="#009100"/><rect x="729" y="282" width="1" height="1" fill="#ff0000"/><rect x="729" y="287" width="1" height="9" fill="#ff0000"/><path d="M728 283h3v4h-3zM729 284v2h1v-2z" fill="#ff0000" fill-rule="evenodd"/><rect x="733" y="273" width="1" height="12" fill="#ff0000"/><path d="M732 285h3v7h-3zM733 286v5h1v-5z" fill="#ff0000" fill-rule="evenodd"/><rect x="737" y="270" width="1" height="3" fill="#ff0000"/><rect x="737" y="277" width="1" height="5" fill="#ff0000"/><path d="M736 273h3v4h-3zM737 274v2h1v-2z" fill="#ff0000" fill-rule="evenodd"/><rect x="741" y="266" width="1" height="29" fill="#009100"/><rect x="740" y="273" width="3" height="11" fill="#009100"/><rect x="745" y="277" width="1" height="1" fill="#ff0000"/><path d="M744 278h3v37h-3zM745 279v35h1v-35z" fill="#ff0000" fill-rule="evenodd"/><rect x="749" y="289" width="1" height="6" fill="#ff0000"/><path d="M748 295h3v8h-3zM749 296v6h1v-6z" fill="#ff0000" fill-rule="evenodd"/><rect x="753" y="252" width="1" height="45" fill="#009100"/><rect x="752" y="280" width="3" height="16" fill="#009100"/><rect x="758" y="284" width="1" height="3" fill="#ff0000"/><rect x="758" y="293" width="1" height="1" fill="#ff0000"/><path d="M757 287h3v6h-3zM758 288v4h1v-4z" fill="#ff0000" fill-rule="evenodd"/><rect x="762" y="282" width="1" height="4" fill="#ff0000"/><rect x="762" y="287" width="1" height="1" fill="#ff0000"/><rect x="761" y="286" width="3" height="1" fill="#ff0000"/><rect x="766" y="273" width="1" height="1" fill="#ff0000"/><path d="M765 274h3v9h-3zM766 275v7h1v-7z" fill="#ff0000" fill-rule="evenodd"/><rect x="770" y="258" width="1" height="2" fill="#ff0000"/><rect x="770" y="270" width="1" height="1" fill="#ff0000"/><path d="M769 260h3v10h-3zM770 261v8h1v-8z" fill="#ff0000" fill-rule="evenodd"/><rect x="774" y="268" width="1" height="9" fill="#009100"/><rect x="773" y="272" width="3" height="5" fill="#009100"/><rect x="778" y="259" width="1" height="1" fill="#ff0000"/><path d="M777 260h3v11h-3zM778 261v9h1v-9z" fill="#ff0000" fill-rule="evenodd"/><rect x="782" y="258" width="1" height="13" fill="#2e7fa6"/><rect x="781" y="261" width="3" height="1" fill="#2e7fa6"/><rect x="787" y="250" width="1" height="3" fill="#ff0000"/><rect x="787" y="259" width="1" height="1" fill="#ff0000"/><path d="M786 253h3v6h-3zM787 254v4h1v-4z" fill="#ff0000" fill-rule="evenodd"/><rect x="791" y="233" width="1" height="1" fill="#ff0000"/><rect x="791" y="245" width="1" height="2" fill="#ff0000"/><path d="M790 234h3v11h-3zM791 235v9h1v-9z" fill="#ff0000" fill-rule="evenodd"/><rect x="795" y="220" width="1" height="15" fill="#2e7fa6"/><rect x="794" y="231" width="3" height="1" fill="#2e7fa6"/><rect x="799" y="233" width="1" height="2" fill="#ff0000"/><rect x="799" y="237" width="1" height="4" fill="#ff0000"/><rect x="798" y="235" width="3" height="2" fill="#ff0000"/><rect x="803" y="229" width="1" height="6" fill="#009100"/><rect x="802" y="232" width="3" height="1" fill="#009100"/><rect x="807" y="233" width="1" height="15" fill="#009100"/><rect x="806" y="236" width="3" height="9" fill="#009100"/><rect x="811" y="244" width="1" height="1" fill="#ff0000"/><rect x="810" y="245" width="3" height="2" fill="#ff0000"/><rect x="815" y="252" width="1" height="6" fill="#009100"/><rect x="814" y="252" width="3" height="1" fill="#009100"/><rect x="820" y="258" width="1" height="1" fill="#ff0000"/><rect x="820" y="262" width="1" height="2" fill="#ff0000"/><path d="M819 259h3v3h-3zM820 260v1h1v-1z" fill="#ff0000" fill-rule="evenodd"/><rect x="824" y="258" width="1" height="3" fill="#ff0000"/><rect x="824" y="264" width="1" height="4" fill="#ff0000"/><path d="M823 261h3v3h-3zM824 262v1h1v-1z" fill="#ff0000" fill-rule="evenodd"/><rect x="828" y="256" width="1" height="9" fill="#009100"/><rect x="827" y="256" width="3" height="7" fill="#009100"/><rect x="832" y="250" width="1" height="1" fill="#ff0000"/><rect x="832" y="261" width="1" height="5" fill="#ff0000"/><path d="M831 251h3v10h-3zM832 252v8h1v-8z" fill="#ff0000" fill-rule="evenodd"/><rect x="836" y="223" width="1" height="2" fill="#ff0000"/><path d="M835 225h3v19h-3zM836 226v17h1v-17z" fill="#ff0000" fill-rule="evenodd"/><rect x="840" y="207" width="1" height="10" fill="#ff0000"/><path d="M839 217h3v5h-3zM840 218v3h1v-3z" fill="#ff0000" fill-rule="evenodd"/><rect x="844" y="210" width="1" height="17" fill="#009100"/><rect x="843" y="211" width="3" height="14" fill="#009100"/><rect x="849" y="216" width="1" height="16" fill="#009100"/><rect x="848" y="221" width="3" height="1" fill="#009100"/><rect x="853" y="189" width="1" height="5" fill="#ff0000"/><rect x="853" y="210" width="1" height="5" fill="#ff0000"/><path d="M852 194h3v16h-3zM853 195v14h1v-14z" fill="#ff0000" fill-rule="evenodd"/><rect x="857" y="175" width="1" height="20" fill="#009100"/><rect x="856" y="176" width="3" height="7" fill="#009100"/><rect x="861" y="183" width="1" height="10" fill="#009100"/><rect x="860" y="183" width="3" height="9" fill="#009100"/><rect x="865" y="195" width="1" height="12" fill="#009100"/><rect x="864" y="195" width="3" height="9" fill="#009100"/><rect x="869" y="196" width="1" height="3" fill="#ff0000"/><rect x="869" y="205" width="1" height="1" fill="#ff0000"/><path d="M868 199h3v6h-3zM869 200v4h1v-4z" fill="#ff0000" fill-rule="evenodd"/><rect x="873" y="159" width="1" height="14" fill="#ff0000"/><rect x="873" y="183" width="1" height="9" fill="#ff0000"/><path d="M872 173h3v10h-3zM873 174v8h1v-8z" fill="#ff0000" fill-rule="evenodd"/><rect x="878" y="141" width="1" height="6" fill="#ff0000"/><rect x="878" y="151" width="1" height="5" fill="#ff0000"/><path d="M877 147h3v4h-3zM878 148v2h1v-2z" fill="#ff0000" fill-rule="evenodd"/><rect x="882" y="125" width="1" height="43" fill="#009100"/><rect x="881" y="138" width="3" height="24" fill="#009100"/><rect x="886" y="140" width="1" height="2" fill="#ff0000"/><rect x="886" y="155" width="1" height="6" fill="#ff0000"/><path d="M885 142h3v13h-3zM886 143v11h1v-11z" fill="#ff0000" fill-rule="evenodd"/><rect x="890" y="140" width="1" height="32" fill="#009100"/><rect x="889" y="149" width="3" height="12" fill="#009100"/><rect x="894" y="147" width="1" height="2" fill="#ff0000"/><path d="M893 149h3v9h-3zM894 150v7h1v-7z" fill="#ff0000" fill-rule="evenodd"/><rect x="898" y="123" width="1" height="2" fill="#ff0000"/><rect x="898" y="146" width="1" height="3" fill="#ff0000"/><path d="M897 125h3v21h-3zM898 126v19h1v-19z" fill="#ff0000" fill-rule="evenodd"/><rect x="902" y="64" width="1" height="32" fill="#ff0000"/><path d="M901 96h3v27h-3zM902 97v25h1v-25z" fill="#ff0000" fill-rule="evenodd"/></g><path d="M1 430.5h1M2.5 431v2M3.5 433v2M4.5 435v3M5.5 438v2M6.5 440v2M7.5 442v2M8.5 444v2M9 446.5h1M10 447.5h1M11 448.5h1M12 449.5h1M13 450.5h1M14 451.5h1M15 452.5h1M16 453.5h1M17 454.5h2M19 455.5h2M21 456.5h1M22 457.5h1M23 458.5h1M24 459.5h1M25 460.5h10M35 459.5h1M36 458.5h1M37 457.5h10M47 458.5h1M48 459.5h2M50 460.5h2M52 461.5h2M54 462.5h1M55 463.5h1M56 464.5h1M57 465.5h1M58.5 466v2M59 468.5h1M60 469.5h1M61 470.5h1M62 471.5h1M63 472.5h1M64 473.5h1M65 474.5h1M66 475.5h2M68 474.5h4M72 475.5h2M74 476.5h1M75 477.5h1M76 478.5h1M77 479.5h1M78 480.5h6M84 481.5h1M85 482.5h2M87 483.5h2M89 484.5h1M90 485.5h6M96 484.5h1M97 483.5h2M99 482.5h6M105 481.5h1M106 480.5h1M107.5 478v2M108 477.5h1M109.5 475v2M110 474.5h1M111 473.5h1M112.5 471v2M113 470.5h1M114 469.5h1M115 468.5h1M116 467.5h1M117 466.5h1M118 465.5h1M119 464.5h1M120 463.5h1M121 462.5h3M124 461.5h10M134 462.5h1M135 463.5h1M136 464.5h1M137 465.5h1M138 466.5h1M139 467.5h1M140 468.5h1M141.5 469v2M142 471.5h1M143 472.5h1M144 473.5h1M145.5 474v2M146 476.5h1M147 477.5h1M148 478.5h1M149 479.5h3M152 480.5h15M167 479.5h1M168 478.5h1M169 477.5h1M170 476.5h1M171 475.5h1M172 474.5h1M173 473.5h1M174 472.5h1M175 471.5h1M176 470.5h2M178 469.5h1M179 468.5h1M180 467.5h1M181 466.5h1M182 465.5h1M183 464.5h1M184 463.5h1M185 462.5h1M186 461.5h1M187 460.5h8M195 461.5h6M201 462.5h2M203 463.5h1M204 464.5h1M205 465.5h1M206 466.5h7M213 467.5h3M216 468.5h1M217 469.5h1M218 470.5h1M219 471.5h2M221 472.5h2M223 473.5h5M228 472.5h5M233 473.5h3M236 474.5h9M245 473.5h5M250 472.5h3M253 471.5h4M257 470.5h1M258 469.5h1M259 468.5h1M260 467.5h1M261 466.5h1M262 465.5h1M263 464.5h1M264 463.5h1M265 462.5h3M268 461.5h3M271 462.5h3M274 463.5h1M275 464.5h1M276.5 465v2M277.5 467v2M278 469.5h1M279.5 470v2M280.5 472v2M281.5 474v2M282 476.5h1M283.5 477v2M284.5 479v2M285.5 481v2M286.5 483v2M287.5 485v2M288.5 487v2M289.5 489v2M290.5 491v2M291 493.5h2M293 494.5h5M298 493.5h1M299 492.5h1M300 491.5h1M301 490.5h1M302 489.5h1M303 488.5h1M304 487.5h1M305 486.5h1M306 485.5h1M307 484.5h1M308.5 482v2M309.5 480v2M310.5 478v2M311.5 476v2M312.5 474v2M313 473.5h1M314.5 471v2M315 470.5h1M316.5 468v2M317 467.5h1M318 466.5h1M319 465.5h1M320 464.5h1M321 463.5h1M322 462.5h2M324 461.5h1M325 460.5h1M326 459.5h2M328 458.5h1M329 457.5h2M331 456.5h2M333 455.5h2M335 454.5h2M337 453.5h13M350 452.5h3M353.5 450v2M354 449.5h1M355 448.5h1M356 447.5h1M357.5 445v2M358 444.5h1M359.5 442v2M360 441.5h1M361.5 439v2M362.5 437v2M363.5 435v2M364.5 433v2M365.5 431v2M366.5 429v2M367.5 427v2M368.5 425v2M369.5 423v2M370.5 421v2M371.5 419v2M372.5 417v2M373 416.5h1M374 415.5h1M375 414.5h1M376 413.5h1M377 412.5h12M389 413.5h2M391 414.5h2M393 415.5h1M394 416.5h1M395 417.5h1M396.5 418v2M397 420.5h1M398.5 421v2M399 423.5h1M400.5 424v2M401 426.5h1M402.5 427v2M403 428.5h1M404 429.5h1M405 430.5h1M406 431.5h1M407 432.5h1M408 433.5h1M409 434.5h1M410 435.5h5M415 434.5h1M416 433.5h1M417 432.5h1M418 431.5h1M419.5 429v2M420 428.5h1M421.5 426v2M422 425.5h1M423 424.5h1M424 423.5h1M425 422.5h1M426 421.5h2M428.5 419v2M429 418.5h1M430 417.5h1M431 416.5h1M432.5 414v2M433 413.5h1M434.5 411v2M435 410.5h1M436 409.5h1M437 408.5h1M438 407.5h1M439 406.5h2M441 407.5h4M445 406.5h2M447.5 405v2M448.5 403v2M449.5 401v2M450.5 399v2M451.5 397v2M452 396.5h2M454 395.5h3M457 394.5h1M458 393.5h1M459 392.5h1M460 391.5h1M461 390.5h1M462 389.5h1M463 388.5h1M464 387.5h1M465 386.5h6M471 387.5h3M474 388.5h5M479 387.5h3M482 386.5h2M484 385.5h3M487 384.5h3M490 383.5h1M491 382.5h1M492 381.5h1M493 380.5h1M494 379.5h2M496 378.5h2M498 377.5h4M502 376.5h1M503 375.5h2M505 374.5h1M506 373.5h1M507.5 371v2M508 370.5h1M509 369.5h1M510.5 367v2M511 366.5h1M512.5 364v2M513 363.5h1M514 362.5h1M515 361.5h1M516.5 359v2M517 358.5h1M518 357.5h1M519.5 355v2M520 354.5h1M521.5 352v2M522.5 350v2M523.5 348v2M524 347.5h1M525.5 345v2M526 344.5h1M527.5 342v2M528.5 340v2M529.5 338v2M530 337.5h1M531.5 335v2M532 334.5h1M533 333.5h1M534 332.5h10M544 333.5h2M546 334.5h1M547.5 335v2M548 337.5h1M549.5 338v2M550.5 340v2M551.5 342v2M552.5 344v2M553.5 346v2M554.5 348v2M555.5 350v2M556.5 352v2M557.5 354v2M558.5 356v3M559.5 359v2M560 361.5h1M561.5 362v2M562 364.5h1M563.5 365v2M564 366.5h2M566 367.5h4M570 366.5h2M572 365.5h1M573 364.5h1M574 363.5h2M576.5 361v2M577.5 359v2M578.5 357v2M579.5 355v2M580 354.5h2M582 353.5h2M584.5 353v2M585.5 355v4M586.5 359v3M587.5 362v4M588.5 366v4M589.5 370v3M590.5 373v3M591.5 376v3M592.5 379v3M593.5 382v3M594.5 385v3M595.5 388v3M596.5 391v3M597.5 394v3M598.5 397v3M599.5 400v3M600.5 403v2M601 405.5h1M602 406.5h1M603 407.5h1M604 408.5h1M605.5 409v2M606.5 406v3M607.5 403v3M608.5 401v2M609.5 398v3M610.5 395v3M611.5 392v3M612.5 390v2M613.5 387v3M614.5 384v3M615.5 381v3M616.5 379v2M617.5 376v3M618.5 373v3M619.5 370v3M620.5 368v2M621.5 365v3M622.5 363v2M623.5 360v3M624.5 358v2M625.5 355v3M626.5 352v3M627.5 349v3M628.5 347v2M629.5 344v3M630.5 340v4M631.5 337v3M632.5 334v3M633.5 332v2M634 331.5h1M635 330.5h1M636 329.5h1M637 328.5h1M638 327.5h1M639.5 325v2M640.5 323v2M641 322.5h1M642.5 320v2M643 319.5h2M645 318.5h2M647 317.5h1M648 316.5h1M649 315.5h5M654 316.5h6M660 317.5h15M675 318.5h2M677 319.5h1M678 320.5h1M679 321.5h2M681 322.5h2M683 323.5h2M685 324.5h2M687 325.5h1M688 326.5h1M689 327.5h1M690 328.5h1M691 329.5h2M693 330.5h1M694 331.5h1M695 332.5h1M696 333.5h2M698 334.5h2M700 335.5h3M703 334.5h3M706 333.5h2M708 332.5h1M709.5 330v2M710.5 328v2M711.5 326v2M712.5 324v2M713.5 321v3M714.5 318v3M715.5 316v2M716.5 313v3M717.5 311v2M718.5 309v2M719.5 307v2M720.5 305v2M721.5 303v2M722.5 301v2M723 300.5h1M724.5 298v2M725 297.5h1M726 296.5h1M727 295.5h1M728 294.5h1M729 293.5h1M730 292.5h1M731 291.5h1M732 290.5h1M733 289.5h1M734 288.5h1M735 287.5h1M736 286.5h2M738 285.5h2M740 284.5h2M742 283.5h2M744 282.5h4M748 283.5h2M750 284.5h2M752 285.5h1M753 286.5h4M757 287.5h5M762 288.5h1M763 287.5h4M767.5 285v2M768 284.5h1M769 283.5h1M770 282.5h1M771.5 280v2M772 279.5h1M773 278.5h1M774 277.5h1M775 276.5h1M776.5 274v2M777 273.5h1M778.5 271v2M779 270.5h1M780.5 268v2M781 267.5h1M782.5 265v2M783 264.5h1M784 263.5h1M785 262.5h1M786 261.5h2M788.5 259v2M789.5 257v2M790.5 255v2M791 254.5h1M792.5 252v2M793.5 250v2M794.5 248v2M795.5 246v2M796.5 244v2M797 243.5h1M798 242.5h1M799 241.5h1M800.5 239v2M801 238.5h1M802 237.5h1M803 236.5h3M806 235.5h2M808 236.5h1M809 237.5h1M810 238.5h1M811 239.5h1M812 240.5h1M813 241.5h1M814 242.5h1M815 243.5h2M817 244.5h1M818 245.5h1M819 246.5h1M820 247.5h1M821.5 248v2M822 250.5h1M823.5 251v2M824.5 253v2M825 254.5h1M826 255.5h2M828 256.5h5M833.5 254v2M834 253.5h1M835.5 251v2M836 250.5h1M837.5 248v2M838.5 246v2M839.5 244v2M840.5 242v2M841.5 240v2M842.5 238v2M843.5 236v2M844 235.5h1M845.5 233v2M846 232.5h1M847.5 230v2M848 229.5h1M849.5 227v2M850.5 224v3M851.5 222v2M852.5 219v3M853.5 217v2M854.5 214v3M855.5 212v2M856.5 210v2M857.5 208v2M858.5 206v2M859 205.5h1M860 204.5h1M861 203.5h1M862.5 201v2M863 200.5h1M864 199.5h1M865 198.5h1M866 197.5h1M867 196.5h1M868 195.5h1M869 194.5h1M870 193.5h1M871 192.5h1M872 191.5h2M874.5 189v2M875 188.5h1M876.5 186v2M877 185.5h1M878 184.5h1M879.5 182v2M880.5 180v2M881.5 178v2M882.5 176v2M883.5 173v3M884.5 170v3M885.5 167v3M886.5 165v2M887.5 163v2M888 162.5h1M889.5 160v2M890 159.5h1M891.5 157v2M892 156.5h1M893.5 154v2M894 153.5h1M895.5 151v2M896 150.5h1M897.5 148v2M898.5 146v2M899.5 143v3M900.5 140v3M901.5 138v2M902.5 136v2" fill="none" stroke="#dc143c" stroke-width="1" shape-rendering="crispEdges"/><path d="M1 442.5h6M7 441.5h3M10 440.5h6M16 441.5h2M18 442.5h2M20 443.5h1M21 444.5h1M22 445.5h1M23 446.5h1M24 447.5h1M25 448.5h1M26 449.5h1M27 450.5h1M28 451.5h1M29 452.5h1M30 453.5h1M31 454.5h3M34 455.5h8M42 456.5h1M43 457.5h2M45 458.5h1M46 459.5h2M48 460.5h2M50 461.5h3M53 462.5h7M60 463.5h2M62 464.5h3M65 465.5h2M67 466.5h3M70 467.5h2M72 468.5h3M75 469.5h1M76 470.5h1M77 471.5h1M78 472.5h1M79 473.5h1M80 474.5h1M81 475.5h1M82 476.5h2M84 477.5h1M85 478.5h2M87 479.5h3M90 480.5h8M98 481.5h7M105 480.5h3M108 479.5h5M113 478.5h1M114 477.5h1M115 476.5h1M116 475.5h2M118 474.5h2M120 473.5h3M123 472.5h2M125 471.5h1M126 470.5h2M128 469.5h1M129 468.5h1M130 467.5h14M144 468.5h3M147 469.5h2M149 470.5h3M152 471.5h3M155 472.5h2M157 473.5h3M160 474.5h2M162 475.5h2M164 476.5h1M165 477.5h7M172 476.5h2M174 475.5h2M176 474.5h2M178 473.5h2M180 472.5h3M183 471.5h2M185 470.5h3M188 469.5h3M191 468.5h1M192 467.5h1M193 466.5h7M200 465.5h1M201 464.5h13M214 465.5h2M216 466.5h3M219 467.5h3M222 468.5h6M228 469.5h3M231 470.5h2M233 471.5h3M236 472.5h3M239 473.5h19M258 472.5h1M259 471.5h1M260 470.5h3M263 469.5h2M265 468.5h3M268 467.5h8M276 468.5h1M277 469.5h2M279 470.5h2M281 471.5h2M283 472.5h1M284 473.5h2M286 474.5h2M288 475.5h1M289 476.5h2M291 477.5h1M292 478.5h2M294 479.5h2M296 480.5h3M299 481.5h2M301 482.5h3M304 483.5h3M307 484.5h6M313 483.5h3M316 482.5h1M317 481.5h1M318 480.5h1M319 479.5h2M321 478.5h1M322 477.5h1M323 476.5h1M324 475.5h1M325 474.5h1M326 473.5h1M327 472.5h1M328 471.5h1M329 470.5h1M330.5 468v2M331 467.5h1M332 466.5h1M333 465.5h2M335 464.5h1M336 463.5h1M337 462.5h1M338 461.5h1M339 460.5h1M340 459.5h2M342 458.5h2M344 457.5h3M347 456.5h2M349 455.5h3M352 454.5h1M353 453.5h1M354 452.5h1M355 451.5h2M357 450.5h1M358 449.5h1M359 448.5h1M360 447.5h1M361 446.5h1M362 445.5h1M363 444.5h1M364 443.5h2M366 442.5h1M367 441.5h1M368 440.5h1M369 439.5h1M370 438.5h1M371 437.5h1M372 436.5h1M373 435.5h1M374 434.5h1M375 433.5h1M376 432.5h1M377 431.5h1M378 430.5h1M379 429.5h1M380 428.5h1M381 427.5h1M382 426.5h1M383.5 424v2M384 423.5h1M385 422.5h1M386 421.5h1M387 420.5h1M388 419.5h1M389 418.5h1M390 417.5h2M392 416.5h2M394 417.5h3M397 418.5h2M399 419.5h2M401 420.5h2M403 421.5h2M405 422.5h2M407 423.5h3M410 424.5h2M412 425.5h2M414 426.5h15M429 425.5h3M432 424.5h1M433 423.5h1M434 422.5h2M436 421.5h1M437 420.5h1M438 419.5h1M439 418.5h2M441 417.5h1M442 416.5h1M443 415.5h1M444 414.5h1M445 413.5h1M446 412.5h1M447 411.5h1M448 410.5h1M449 409.5h1M450.5 407v2M451 406.5h1M452 405.5h1M453 404.5h1M454 403.5h1M455 402.5h1M456 401.5h2M458 400.5h1M459 399.5h2M461 398.5h2M463 397.5h2M465 396.5h1M466 395.5h2M468 394.5h1M469 393.5h1M470 392.5h7M477 391.5h2M479 390.5h1M480 389.5h2M482 388.5h1M483 387.5h1M484 386.5h2M486 385.5h3M489 384.5h4M493 383.5h4M497 382.5h5M502 381.5h1M503 380.5h1M504 379.5h2M506 378.5h1M507 377.5h1M508 376.5h1M509 375.5h2M511 374.5h1M512 373.5h1M513 372.5h1M514 371.5h1M515 370.5h1M516 369.5h1M517 368.5h1M518.5 366v2M519 365.5h1M520 364.5h1M521 363.5h1M522 362.5h1M523.5 360v2M524 359.5h1M525 358.5h1M526 357.5h1M527 356.5h1M528.5 354v2M529 353.5h1M530 352.5h1M531.5 350v2M532 349.5h1M533 348.5h1M534 347.5h1M535 346.5h1M536 345.5h2M538 344.5h2M540 343.5h1M541 342.5h2M543 341.5h1M544 340.5h2M546 339.5h8M554 340.5h1M555 341.5h1M556 342.5h1M557 343.5h1M558 344.5h1M559 345.5h1M560 346.5h1M561 347.5h2M563 348.5h1M564 349.5h2M566 350.5h2M568 351.5h2M570 352.5h1M571 353.5h2M573 354.5h1M574 355.5h2M576 356.5h2M578 357.5h2M580 358.5h4M584 359.5h1M585.5 360v2M586.5 362v2M587.5 364v2M588.5 366v2M589 368.5h1M590.5 369v2M591 371.5h1M592.5 372v2M593 374.5h1M594 375.5h1M595 376.5h1M596 377.5h1M597 378.5h1M598 379.5h2M600 380.5h2M602 381.5h2M604 382.5h3M607 383.5h3M610 384.5h5M615 385.5h3M618 386.5h3M621 385.5h1M622 384.5h2M624 383.5h1M625.5 381v2M626.5 379v2M627.5 376v3M628.5 373v3M629.5 371v2M630.5 368v3M631.5 365v3M632.5 363v2M633.5 361v2M634.5 359v2M635.5 357v2M636.5 355v2M637.5 353v2M638.5 351v2M639.5 349v2M640.5 347v2M641.5 345v2M642.5 343v2M643.5 341v2M644.5 339v2M645.5 337v2M646 336.5h1M647.5 334v2M648 333.5h1M649.5 331v2M650 330.5h1M651.5 328v2M652 327.5h1M653.5 325v2M654 324.5h1M655 323.5h1M656 322.5h1M657 321.5h2M659 320.5h1M660 319.5h1M661 318.5h4M665 317.5h12M677 318.5h2M679 319.5h4M683 320.5h2M685 321.5h2M687 322.5h1M688 323.5h2M690 324.5h1M691 325.5h3M694 326.5h3M697 327.5h1M698 328.5h1M699 329.5h5M704 330.5h4M708 329.5h2M710 328.5h2M712 327.5h2M714 326.5h1M715 325.5h2M717 324.5h1M718 323.5h1M719 322.5h2M721 321.5h1M722 320.5h2M724 319.5h1M725 318.5h1M726 317.5h1M727 316.5h1M728 315.5h1M729 314.5h1M730.5 312v2M731 311.5h1M732.5 309v2M733 308.5h1M734.5 306v2M735.5 304v2M736.5 302v2M737 301.5h1M738.5 299v2M739 298.5h1M740.5 296v2M741 295.5h1M742 294.5h1M743.5 292v2M744 291.5h1M745 290.5h1M746 289.5h2M748 288.5h1M749 287.5h13M762 286.5h2M764 285.5h2M766 284.5h2M768 283.5h2M770 282.5h3M773 281.5h4M777 280.5h3M780 279.5h1M781 278.5h2M783 277.5h1M784 276.5h2M786 275.5h1M787 274.5h1M788 273.5h1M789 272.5h1M790.5 270v2M791 269.5h1M792 268.5h1M793.5 266v2M794 265.5h1M795 264.5h1M796.5 262v2M797 261.5h1M798.5 259v2M799 258.5h1M800.5 256v2M801 255.5h1M802.5 253v2M803 252.5h1M804 251.5h1M805 250.5h1M806 249.5h1M807 248.5h2M809 247.5h3M812 246.5h2M814 245.5h14M828 246.5h2M830 247.5h7M837 246.5h2M839 245.5h2M841 244.5h4M845 243.5h3M848 242.5h1M849 241.5h1M850 240.5h1M851 239.5h1M852 238.5h1M853 237.5h1M854.5 235v2M855.5 233v2M856.5 231v2M857.5 229v2M858.5 227v2M859.5 225v2M860 224.5h1M861.5 222v2M862 221.5h1M863 220.5h1M864.5 218v2M865 217.5h1M866 216.5h1M867.5 214v2M868 213.5h1M869.5 211v2M870.5 209v2M871.5 207v2M872.5 205v2M873.5 203v2M874.5 201v2M875.5 199v2M876 198.5h1M877.5 196v2M878 195.5h1M879.5 193v2M880 192.5h1M881.5 190v2M882.5 188v2M883.5 186v2M884 185.5h1M885.5 183v2M886 182.5h1M887.5 180v2M888 179.5h1M889 178.5h1M890.5 176v2M891 175.5h1M892 174.5h1M893.5 172v2M894 171.5h1M895.5 169v2M896 168.5h1M897.5 166v2M898.5 164v2M899.5 162v2M900.5 160v2M901.5 158v2M902 157.5h1" fill="none" stroke="#4682b4" stroke-width="1" shape-rendering="crispEdges"/><path d="M1 467.5h1M2 466.5h2M4 465.5h2M6 464.5h3M9 463.5h2M11 462.5h2M13 461.5h2M15 460.5h2M17 459.5h3M20 458.5h2M22 457.5h2M24 456.5h2M26 455.5h3M29 454.5h2M31 453.5h2M33 452.5h3M36 451.5h2M38 450.5h9M47 451.5h6M53 452.5h7M60 453.5h3M63 454.5h1M64 455.5h1M65 456.5h1M66 457.5h1M67 458.5h3M70 459.5h2M72 460.5h3M75 461.5h2M77 462.5h1M78 463.5h2M80 464.5h1M81 465.5h2M83 466.5h2M85 467.5h1M86 468.5h2M88 469.5h2M90 470.5h2M92 471.5h7M99 472.5h19M118.5 473v2M119 474.5h25M144 475.5h14M158 474.5h5M163 475.5h1M164 476.5h3M167 475.5h2M169 474.5h1M170 473.5h2M172 472.5h1M173 471.5h4M177 470.5h6M183 469.5h7M190 468.5h10M200 469.5h3M203 470.5h32M235 469.5h12M247 468.5h20M267 469.5h9M276 470.5h3M279 471.5h3M282 472.5h3M285 473.5h3M288 474.5h3M291 475.5h3M294 476.5h3M297 477.5h6M303 476.5h9M312 475.5h3M315 474.5h10M325 473.5h4M329 472.5h4M333 471.5h5M338 470.5h12M350 469.5h3M353 468.5h3M356 467.5h2M358 466.5h1M359 465.5h1M360 464.5h1M361 463.5h1M362 462.5h1M363 461.5h1M364 460.5h1M365 459.5h1M366 458.5h1M367 457.5h1M368 456.5h1M369 455.5h1M370 454.5h1M371 453.5h1M372 452.5h1M373.5 450v2M374 449.5h1M375 448.5h1M376 447.5h1M377 446.5h1M378 445.5h1M379 444.5h2M381 443.5h1M382 442.5h1M383 441.5h1M384 440.5h2M386 439.5h2M388 438.5h1M389 437.5h2M391 436.5h2M393 435.5h1M394 434.5h4M398 433.5h4M402 432.5h3M405 431.5h6M411 430.5h2M413 429.5h2M415 428.5h2M417 427.5h2M419 426.5h3M422 425.5h3M425 424.5h2M427 423.5h2M429 422.5h2M431 421.5h2M433 420.5h2M435 419.5h3M438 418.5h7M445 417.5h3M448 416.5h2M450 415.5h3M453 414.5h4M457 413.5h3M460 412.5h3M463 411.5h2M465 410.5h3M468 409.5h4M472 408.5h3M475 407.5h1M476 406.5h1M477 405.5h1M478 404.5h1M479 403.5h2M481 402.5h1M482 401.5h2M484 400.5h1M485 399.5h2M487 398.5h2M489 397.5h2M491 396.5h2M493 395.5h2M495 394.5h1M496 393.5h2M498 392.5h1M499 391.5h2M501 390.5h1M502 389.5h2M504 388.5h1M505 387.5h1M506 386.5h2M508 385.5h1M509 384.5h2M511 383.5h2M513 382.5h1M514 381.5h2M516 380.5h1M517 379.5h1M518 378.5h1M519 377.5h1M520 376.5h1M521 375.5h2M523 374.5h1M524 373.5h1M525 372.5h1M526 371.5h2M528 370.5h1M529 369.5h1M530 368.5h1M531 367.5h2M533 366.5h1M534 365.5h2M536 364.5h2M538 363.5h1M539 362.5h2M541 361.5h2M543 360.5h2M545 359.5h3M548 358.5h5M553 357.5h5M558 356.5h7M565 355.5h3M568 354.5h2M570 353.5h3M573 352.5h2M575 351.5h3M578 350.5h7M585 351.5h1M586 352.5h1M587 353.5h1M588 354.5h1M589 355.5h2M591 356.5h2M593 357.5h2M595 358.5h1M596 359.5h1M597 360.5h2M599 361.5h1M600 362.5h1M601 363.5h2M603 364.5h1M604 365.5h2M606 366.5h1M607 367.5h2M609 368.5h4M613 369.5h2M615 370.5h3M618 371.5h8M626 370.5h3M629 369.5h2M631 368.5h3M634 367.5h1M635 366.5h2M637 365.5h1M638 364.5h1M639 363.5h1M640 362.5h1M641 361.5h1M642 360.5h4M646 359.5h2M648 358.5h1M649 357.5h2M651 356.5h2M653 355.5h1M654 354.5h2M656 353.5h4M660 352.5h3M663 351.5h3M666 350.5h2M668 349.5h1M669 348.5h1M670.5 346v2M671 345.5h1M672 344.5h1M673.5 342v2M674 341.5h1M675 340.5h1M676 339.5h1M677.5 337v2M678 336.5h1M679 335.5h1M680 334.5h1M681 333.5h1M682 332.5h1M683 331.5h1M684 330.5h1M685 329.5h1M686 328.5h2M688 327.5h2M690 326.5h5M695 325.5h7M702 324.5h3M705 323.5h2M707 322.5h3M710 321.5h6M716 320.5h3M719 319.5h3M722 318.5h3M725 317.5h3M728 316.5h2M730 315.5h3M733 314.5h2M735 313.5h3M738 312.5h3M741 311.5h2M743 310.5h1M744 309.5h2M746 308.5h3M749 307.5h6M755 306.5h4M759 305.5h1M760 304.5h2M762 303.5h1M763 302.5h1M764 301.5h1M765 300.5h2M767 299.5h1M768 298.5h1M769 297.5h1M770 296.5h2M772 295.5h1M773 294.5h2M775 293.5h1M776 292.5h1M777 291.5h1M778 290.5h1M779 289.5h2M781 288.5h1M782 287.5h1M783 286.5h1M784 285.5h2M786 284.5h1M787 283.5h1M788 282.5h1M789 281.5h1M790 280.5h1M791 279.5h1M792 278.5h1M793 277.5h1M794 276.5h2M796 275.5h1M797 274.5h1M798 273.5h1M799 272.5h2M801 271.5h1M802 270.5h1M803 269.5h1M804 268.5h2M806 267.5h1M807 266.5h2M809 265.5h1M810 264.5h3M813 263.5h3M816 262.5h4M820 261.5h4M824 260.5h4M828 259.5h2M830 258.5h2M832 257.5h1M833 256.5h1M834 255.5h2M836 254.5h1M837 253.5h1M838 252.5h1M839 251.5h1M840 250.5h2M842 249.5h1M843 248.5h1M844 247.5h2M846 246.5h1M847 245.5h2M849 244.5h2M851 243.5h1M852 242.5h1M853 241.5h1M854 240.5h1M855 239.5h1M856 238.5h1M857 237.5h1M858 236.5h1M859 235.5h1M860 234.5h1M861 233.5h2M863 232.5h1M864 231.5h1M865 230.5h3M868 229.5h3M871 228.5h1M872 227.5h1M873 226.5h1M874 225.5h1M875 224.5h1M876 223.5h1M877 222.5h1M878 221.5h1M879 220.5h1M880 219.5h1M881 218.5h1M882 217.5h1M883 216.5h1M884 215.5h1M885 214.5h1M886 213.5h1M887 212.5h1M888.5 210v2M889 209.5h1M890 208.5h1M891 207.5h1M892 206.5h1M893.5 204v2M894 203.5h1M895 202.5h1M896 201.5h1M897.5 199v2M898.5 197v2M899.5 195v2M900.5 193v2M901.5 191v2M902 190.5h1" fill="none" stroke="#0a32ff" stroke-width="1" shape-rendering="crispEdges"/><path d="M158 470.5h5M163 469.5h7M170 468.5h13M183 467.5h5M188 466.5h5M193 465.5h33M226 466.5h4M230 467.5h3M233 468.5h7M240 469.5h8M248 470.5h29M277 471.5h3M280 472.5h5M285 473.5h5M290 474.5h20M310 473.5h10M320 472.5h7M327 471.5h8M335 470.5h15M350 469.5h5M355 468.5h5M360 467.5h5M365 466.5h5M370 465.5h3M373 464.5h4M377 463.5h3M380 462.5h5M385 461.5h5M390 460.5h8M398 459.5h5M403 458.5h5M408 457.5h4M412 456.5h4M416 455.5h4M420 454.5h5M425 453.5h5M430 452.5h5M435 451.5h5M440 450.5h5M445 449.5h5M450 448.5h4M454 447.5h3M457 446.5h3M460 445.5h3M463 444.5h3M466 443.5h3M469 442.5h2M471 441.5h3M474 440.5h3M477 439.5h3M480 438.5h3M483 437.5h2M485 436.5h3M488 435.5h2M490 434.5h3M493 433.5h2M495 432.5h3M498 431.5h2M500 430.5h3M503 429.5h2M505 428.5h3M508 427.5h3M511 426.5h2M513 425.5h3M516 424.5h2M518 423.5h1M519 422.5h2M521 421.5h1M522 420.5h2M524 419.5h1M525 418.5h2M527 417.5h1M528 416.5h1M529 415.5h2M531 414.5h1M532 413.5h1M533 412.5h2M535 411.5h1M536 410.5h1M537 409.5h2M539 408.5h1M540 407.5h2M542 406.5h2M544 405.5h2M546 404.5h2M548 403.5h2M550 402.5h3M553 401.5h3M556 400.5h3M559 399.5h2M561 398.5h2M563 397.5h2M565 396.5h2M567 395.5h2M569 394.5h3M572 393.5h3M575 392.5h3M578 391.5h2M580 390.5h2M582 389.5h11M593 388.5h5M598 387.5h5M603 386.5h7M610 385.5h5M615 384.5h3M618 383.5h4M622 382.5h3M625 381.5h2M627 380.5h2M629 379.5h2M631 378.5h3M634 377.5h2M636 376.5h3M639 375.5h3M642 374.5h3M645 373.5h2M647 372.5h1M648 371.5h2M650 370.5h2M652 369.5h2M654 368.5h3M657 367.5h2M659 366.5h2M661 365.5h2M663 364.5h3M666 363.5h2M668 362.5h2M670 361.5h3M673 360.5h4M677 359.5h3M680 358.5h3M683 357.5h4M687 356.5h3M690 355.5h5M695 354.5h5M700 353.5h3M703 352.5h4M707 351.5h3M710 350.5h3M713 349.5h2M715 348.5h3M718 347.5h2M720 346.5h3M723 345.5h4M727 344.5h3M730 343.5h3M733 342.5h2M735 341.5h3M738 340.5h2M740 339.5h3M743 338.5h4M747 337.5h3M750 336.5h3M753 335.5h3M756 334.5h3M759 333.5h2M761 332.5h3M764 331.5h3M767 330.5h3M770 329.5h4M774 328.5h4M778 327.5h5M783 326.5h4M787 325.5h2M789 324.5h3M792 323.5h2M794 322.5h2M796 321.5h2M798 320.5h2M800 319.5h2M802 318.5h2M804 317.5h1M805 316.5h2M807 315.5h1M808 314.5h2M810 313.5h3M813 312.5h2M815 311.5h3M818 310.5h2M820 309.5h3M823 308.5h2M825 307.5h3M828 306.5h2M830 305.5h2M832 304.5h2M834 303.5h2M836 302.5h1M837 301.5h1M838 300.5h1M839 299.5h2M841 298.5h1M842 297.5h1M843 296.5h1M844 295.5h1M845 294.5h2M847 293.5h1M848 292.5h1M849 291.5h1M850 290.5h2M852 289.5h1M853 288.5h1M854 287.5h1M855 286.5h2M857 285.5h1M858 284.5h1M859 283.5h1M860 282.5h2M862 281.5h1M863 280.5h1M864 279.5h1M865 278.5h2M867 277.5h1M868 276.5h2M870 275.5h1M871 274.5h2M873 273.5h1M874 272.5h2M876 271.5h1M877 270.5h2M879 269.5h2M881 268.5h1M882 267.5h2M884 266.5h2M886 265.5h1M887 264.5h2M889 263.5h2M891 262.5h1M892 261.5h2M894 260.5h1M895 259.5h2M897 258.5h1M898 257.5h2M900 256.5h1M901 255.5h2" fill="none" stroke="#19c8e8" stroke-width="1" shape-rendering="crispEdges"/><path d="M406 464.5h1M407 463.5h5M412 462.5h5M417 461.5h6M423 460.5h6M429 459.5h5M434 458.5h6M440 457.5h6M446 456.5h5M451 455.5h6M457 454.5h8M465 453.5h10M475 452.5h11M486 451.5h12M498 450.5h4M502 449.5h4M506 448.5h4M510 447.5h4M514 446.5h4M518 445.5h4M522 444.5h4M526 443.5h4M530 442.5h4M534 441.5h4M538 440.5h4M542 439.5h4M546 438.5h4M550 437.5h7M557 436.5h8M565 435.5h3M568 434.5h2M570 433.5h3M573 432.5h4M577 431.5h3M580 430.5h5M585 429.5h10M595 428.5h5M600 427.5h8M608 426.5h5M613 425.5h5M618 424.5h5M623 423.5h4M627 422.5h3M630 421.5h3M633 420.5h3M636 419.5h3M639 418.5h3M642 417.5h3M645 416.5h3M648 415.5h2M650 414.5h3M653 413.5h3M656 412.5h3M659 411.5h2M661 410.5h3M664 409.5h3M667 408.5h3M670 407.5h3M673 406.5h4M677 405.5h3M680 404.5h5M685 403.5h5M690 402.5h4M694 401.5h4M698 400.5h4M702 399.5h3M705 398.5h3M708 397.5h3M711 396.5h3M714 395.5h3M717 394.5h3M720 393.5h3M723 392.5h2M725 391.5h3M728 390.5h2M730 389.5h3M733 388.5h2M735 387.5h3M738 386.5h2M740 385.5h3M743 384.5h3M746 383.5h3M749 382.5h3M752 381.5h3M755 380.5h3M758 379.5h3M761 378.5h2M763 377.5h3M766 376.5h2M768 375.5h2M770 374.5h3M773 373.5h2M775 372.5h3M778 371.5h2M780 370.5h3M783 369.5h2M785 368.5h3M788 367.5h2M790 366.5h2M792 365.5h1M793 364.5h2M795 363.5h2M797 362.5h1M798 361.5h2M800 360.5h3M803 359.5h2M805 358.5h3M808 357.5h2M810 356.5h2M812 355.5h2M814 354.5h3M817 353.5h2M819 352.5h2M821 351.5h2M823 350.5h3M826 349.5h2M828 348.5h2M830 347.5h3M833 346.5h2M835 345.5h3M838 344.5h2M840 343.5h2M842 342.5h2M844 341.5h2M846 340.5h2M848 339.5h2M850 338.5h2M852 337.5h2M854 336.5h2M856 335.5h2M858 334.5h2M860 333.5h2M862 332.5h2M864 331.5h3M867 330.5h2M869 329.5h3M872 328.5h4M876 327.5h2M878 326.5h1M879 325.5h2M881 324.5h1M882 323.5h2M884 322.5h2M886 321.5h2M888 320.5h1M889 319.5h2M891 318.5h2M893 317.5h2M895 316.5h2M897 315.5h1M898 314.5h2M900 313.5h2M902 312.5h1" fill="none" stroke="#2db84a" stroke-width="1" shape-rendering="crispEdges"/><g shape-rendering="crispEdges"><rect x="45" y="405" width="2" height="62" fill="#009100"/><rect x="44" y="430" width="4" height="33" fill="#009100"/></g><g fill="none" stroke="#3a86a8" stroke-width="1"><path d="M887 63.5H902M898.5 60L902 63.5L898.5 67"/><path d="M275 510.5H290M286.5 507L290 510.5L286.5 514"/></g></svg>
<svg width="999" height="543" viewBox="0 0 999 543" style="position:absolute;left:0;top:0">
<path d="M959 27.5H973.2L966.1 38.6Z" fill="#8e8e8e"/>
<path d="M989.6 32.5V30.2a2.55 2.55 0 0 1 5.1 0V31.2" fill="none" stroke="#efb03c" stroke-width="1.1"/>
<rect x="980" y="32" width="10.2" height="7.8" rx="0.8" fill="#efb03c"/>
<rect x="984.2" y="34" width="1.8" height="3.8" fill="#fff"/>
<g fill="none" stroke="#acacac" stroke-width="1.2"><rect x="981.5" y="5.5" width="15.5" height="11"/><path d="M989.2 16.5V19.5M983.5 19.5H995"/></g>
<text x="989.3" y="14" font-family="'Liberation Sans',sans-serif" font-size="7.5" font-weight="bold" text-anchor="middle" fill="#b0b0b0">WP</text>
<rect x="279" y="0" width="26" height="1" fill="#d2d2d2"/>
<rect x="780" y="39" width="178" height="1" fill="#333" shape-rendering="crispEdges"/>
</svg><span id="ti1" class="t h k" style="left:2.21px;top:5.71px;letter-spacing:-0.015px;">513730.SH[</span><span id="ti2" class="t c k" style="left:74.76px;top:5.70px;letter-spacing:-0.960px;">东南亚科技</span><span id="ti3" class="t h k" style="left:140.07px;top:5.71px;letter-spacing:-0.257px;transform:scaleX(0.84);transform-origin:0 0;">ETF]</span><span id="dt" class="t h k" style="left:179.25px;top:5.71px;letter-spacing:0.613px;">2024/01/17</span><span id="l1" class="t c k" style="left:266.34px;top:5.70px;letter-spacing:0.000px;">收</span><span id="v1" class="t h g" style="left:282.48px;top:5.71px;letter-spacing:0.141px;">1.033</span><span id="l2" class="t c k" style="left:328.75px;top:5.70px;letter-spacing:0.000px;">幅</span><span id="v2" class="t h g" style="left:345.22px;top:5.71px;letter-spacing:-0.001px;">-1.53%(-0.016)</span><span id="l3" class="t c k" style="left:449.38px;top:5.70px;letter-spacing:0.000px;">开</span><span id="v3" class="t h r" style="left:465.39px;top:5.71px;letter-spacing:0.108px;">1.068</span><span id="l4" class="t c k" style="left:511.76px;top:5.70px;letter-spacing:0.000px;">高</span><span id="v4" class="t h r" style="left:527.87px;top:5.71px;letter-spacing:0.042px;">1.098</span><span id="l5" class="t c k" style="left:573.67px;top:5.70px;letter-spacing:0.000px;">低</span><span id="v5" class="t h g" style="left:589.12px;top:5.71px;letter-spacing:0.094px;">1.029</span><span id="l6" class="t c k" style="left:635.42px;top:5.70px;letter-spacing:0.000px;">均</span><span id="v6" class="t h r" style="left:651.00px;top:5.71px;letter-spacing:0.126px;">1.063</span><span id="l7" class="t c k" style="left:696.64px;top:5.70px;letter-spacing:0.000px;">量</span><span id="v7" class="t h k" style="left:713.31px;top:5.71px;letter-spacing:0.308px;">1175万</span><span id="l8" class="t c k" style="left:769.70px;top:5.70px;letter-spacing:0.000px;">换</span><span id="v8" class="t h k" style="left:785.69px;top:5.71px;letter-spacing:0.081px;">148.09%</span><span id="l9" class="t c k" style="left:851.66px;top:5.70px;letter-spacing:0.000px;">振</span><span id="v9" class="t h k" style="left:867.14px;top:5.71px;letter-spacing:0.181px;">6.58%</span><span id="l10" class="t c k" style="left:918.23px;top:5.70px;letter-spacing:0.000px;">额</span><span id="v10" class="t h k" style="left:933.72px;top:5.71px;letter-spacing:0.004px;">12.49亿</span><span id="m1" class="t h2 k" style="left:1.17px;top:26.74px;letter-spacing:-0.141px;">MA5</span><span id="m2" class="t h2 m5" style="left:32.89px;top:26.74px;letter-spacing:-0.730px;">1.040</span><span id="m2a" class="t h2 m5 ar" style="left:60.47px;top:27.21px;letter-spacing:0.000px;">↑</span><span id="m3" class="t h2 k" style="left:75.48px;top:26.74px;letter-spacing:-0.327px;">MA10</span><span id="m4" class="t h2 m10" style="left:114.21px;top:26.74px;letter-spacing:-0.498px;">1.038</span><span id="m4a" class="t h2 m10 ar" style="left:142.52px;top:27.18px;letter-spacing:0.000px;">↓</span><span id="m5" class="t h2 k" style="left:156.00px;top:26.74px;letter-spacing:-0.148px;">MA20</span><span id="m6" class="t h2 m20" style="left:194.84px;top:26.74px;letter-spacing:-0.321px;">1.047</span><span id="m6a" class="t h2 m20 ar" style="left:223.51px;top:27.21px;letter-spacing:0.000px;">↑</span><span id="rng" class="t h2 k" style="left:779.37px;top:26.74px;letter-spacing:0.086px;">2024/01/02-2024/11/28(219日)</span><span id="y0" class="t a" style="left:939.87px;top:55.78px;letter-spacing:-0.109px;">1.480</span><span id="y1" class="t a" style="left:939.80px;top:144.80px;letter-spacing:-0.062px;">1.380</span><span id="y2" class="t a" style="left:939.75px;top:234.80px;letter-spacing:-0.103px;">1.280</span><span id="y3" class="t a" style="left:939.86px;top:323.80px;letter-spacing:-0.139px;">1.180</span><span id="y4" class="t a" style="left:939.84px;top:413.80px;letter-spacing:-0.075px;">1.080</span><span id="y5" class="t a" style="left:940.38px;top:503.80px;letter-spacing:-0.259px;">0.980</span><span id="x0" class="t a" style="left:2.65px;top:524.90px;letter-spacing:0.034px;">24-01</span><span id="x22" class="t a" style="left:93.76px;top:524.89px;letter-spacing:-0.064px;">24-02</span><span id="x37" class="t a" style="left:155.76px;top:524.89px;letter-spacing:-0.082px;">24-03</span><span id="x58" class="t a" style="left:241.67px;top:524.63px;letter-spacing:-0.064px;">24-04</span><span id="x78" class="t a" style="left:324.74px;top:525.13px;letter-spacing:-0.109px;">24-05</span><span id="x98" class="t a" style="left:407.71px;top:525.09px;letter-spacing:-0.093px;">24-06</span><span id="x117" class="t a" style="left:486.71px;top:524.89px;letter-spacing:-0.015px;">24-07</span><span id="x140" class="t a" style="left:581.74px;top:524.88px;letter-spacing:-0.076px;">24-08</span><span id="x162" class="t a" style="left:672.74px;top:525.09px;letter-spacing:-0.100px;">24-09</span><span id="x181" class="t a" style="left:750.64px;top:524.85px;letter-spacing:-0.114px;">24-10</span><span id="x199" class="t a" style="left:825.67px;top:524.62px;letter-spacing:0.242px;">24-11</span><span id="hi" class="t a" style="left:855.81px;top:56.80px;letter-spacing:-0.440px;color:#e0002a">1.478</span><span id="lo" class="t a" style="left:243.38px;top:503.80px;letter-spacing:-0.307px;color:#1f8a1f">0.979</span></body></html>
